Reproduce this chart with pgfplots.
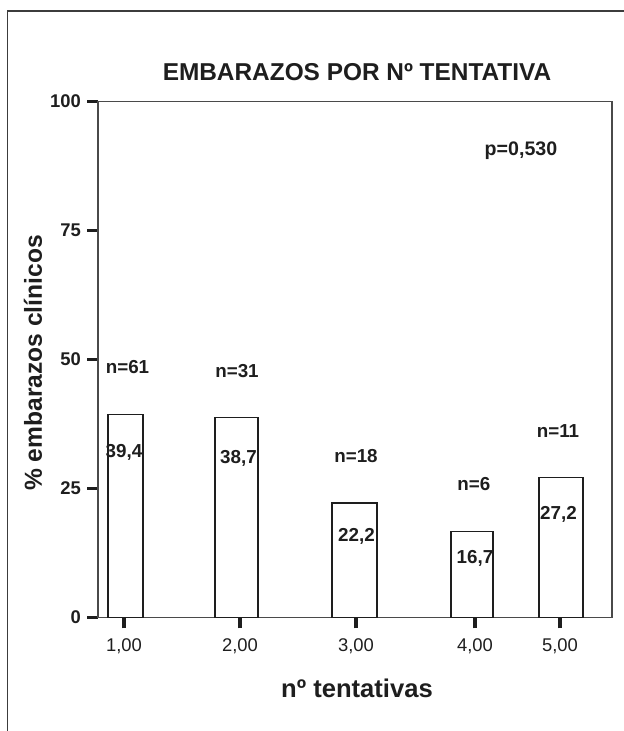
\documentclass[border=0pt]{standalone}
\usepackage{pgfplots}
\pgfplotsset{compat=1.18}
\usepackage{fontspec}
\setmainfont{Liberation Sans}
\definecolor{ink}{HTML}{1E1E1E}
\definecolor{framec}{HTML}{3C3C3C}
\definecolor{axc}{HTML}{4A4A4A}
\begin{document}
\begin{tikzpicture}
\path[use as bounding box] (0pt,0pt) rectangle (311.5pt,365.5pt);
\draw[framec, line width=0.8pt] (3.8pt,-5pt) -- (3.8pt,360pt) -- (320pt,360pt);
\begin{axis}[
  at={(49pt,56.75pt)}, anchor=south west,
  scale only axis, width=257pt, height=258pt,
  xmin=0.778, xmax=5.171, ymin=0, ymax=100,
  axis line style={draw=axc, line width=0.6pt},
  xtick={1,1.991,2.983,4.0,4.726},
  xticklabels={{1,00},{2,00},{3,00},{4,00},{5,00}},
  ytick={0,25,50,75,100},
  xtick pos=bottom, ytick pos=left,
  tick align=outside,
  major tick length=5.5pt,
  tick style={line width=1.7pt, draw=ink},
  /pgf/number format/assume math mode=true,
  yticklabel style={font=\bfseries\fontsize{9.2}{10}\selectfont, text=ink, xshift=0.5pt},
  xticklabel style={font=\fontsize{9.2}{10}\selectfont, text=ink, yshift=-1.5pt},
  clip=false,
]
\addplot[ybar, bar width=17.5pt, bar shift=0pt, draw=ink, fill=white, line width=0.6pt] coordinates {(1.013,39.4)};
\addplot[ybar, bar width=21.5pt, bar shift=0pt, draw=ink, fill=white, line width=0.6pt] coordinates {(1.962,38.7)};
\addplot[ybar, bar width=22.5pt, bar shift=0pt, draw=ink, fill=white, line width=0.6pt] coordinates {(2.970,22.2)};
\addplot[ybar, bar width=21pt, bar shift=0pt, draw=ink, fill=white, line width=0.6pt] coordinates {(3.974,16.7)};
\addplot[ybar, bar width=22pt, bar shift=0pt, draw=ink, fill=white, line width=0.6pt] coordinates {(4.735,27.2)};
\begin{scope}[every node/.style={font=\bfseries\fontsize{9.4}{10}\selectfont, text=ink}]
\node at (axis cs:1.030,48.6) {n=61};
\node at (axis cs:1.966,47.8) {n=31};
\node at (axis cs:2.983,31.3) {n=18};
\node at (axis cs:3.991,25.9) {n=6};
\node at (axis cs:4.709,36.1) {n=11};
\node at (axis cs:1.000,32.0) {39,4};
\node at (axis cs:1.979,30.8) {38,7};
\node at (axis cs:2.987,15.7) {22,2};
\node at (axis cs:4.000,11.4) {16,7};
\node at (axis cs:4.714,20.0) {27,2};
\node[font=\bfseries\fontsize{9.8}{11}\selectfont] at (axis cs:4.393,90.5) {p=0,530};
\end{scope}
\end{axis}
\node[font=\bfseries\fontsize{12.2}{14}\selectfont, text=ink] at (178.5pt,329.5pt) {EMBARAZOS POR Nº TENTATIVA};
\node[rotate=90, font=\bfseries\fontsize{12.3}{14}\selectfont, text=ink] at (16.5pt,184pt) {\% embarazos clínicos};
\node[font=\bfseries\fontsize{12.8}{14}\selectfont, text=ink] at (178.5pt,21.5pt) {nº tentativas};
\end{tikzpicture}
\end{document}
